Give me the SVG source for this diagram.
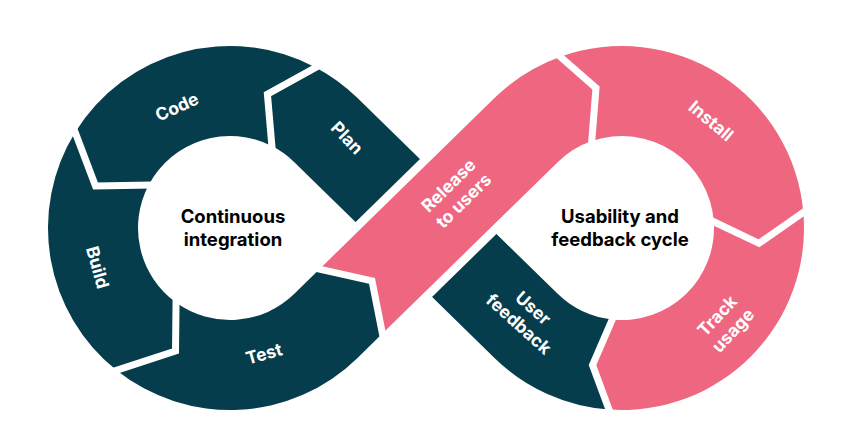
<svg xmlns="http://www.w3.org/2000/svg" width="864" height="427" viewBox="0 0 864 427">
  <style>
    .dark { fill: #063d4d; }
    .pink { fill: #ef6680; }
    .gap { fill: none; stroke: #ffffff; stroke-width: 7; stroke-linecap: square; stroke-linejoin: miter; }
    .lbl { font-family: Inter, "Liberation Sans", sans-serif; font-size: 17.5px; font-weight: 700; fill: #ffffff; text-anchor: middle; }
    .hub { font-family: Inter, "Liberation Sans", sans-serif; font-size: 18.5px; font-weight: 700; fill: #000000; text-anchor: middle; }
  </style>
  <rect width="864" height="427" fill="#ffffff"/>

  <g id="plan">
    <path class="dark" d="M 458.18 196.55 L 357.27 97.82 A 182 182 0 0 0 315.72 67.45 L 267.4 94.1 L 271.91 146.10 A 92 92 0 0 1 294.34 162.19 L 393.82 259.45 Z"/>
  </g>
  <g id="user-feedback">
    <path class="dark" d="M 608.99 409.53 A 182 182 0 0 1 494.73 358.18 L 393.82 259.45 L 458.18 196.55 L 557.66 293.81 A 92 92 0 0 0 612.22 319.48 L 592.5 365 Z"/>
  </g>
  <polygon id="crossing-gap" fill="#ffffff" points="338.54,238.67 438.66,140.81 513.46,217.33 413.34,315.19"/>
  <g id="release">
    <path class="pink" d="M 382.4 333.6 L 557.66 162.19 A 92 92 0 0 1 591.74 141.12 L 596 88 L 560.35 56.76 A 182 182 0 0 0 494.73 97.82 L 319.4 269.2 L 372.0 280.8 Z"/>
  </g>
  <g id="code">
    <path class="dark" d="M 315.72 67.45 A 182 182 0 0 0 75.15 132.36 L 95.5 186 L 148.69 184.95 A 92 92 0 0 1 271.91 146.10 L 267.4 94.1 Z"/>
  </g>
  <g id="build">
    <path class="dark" d="M 75.15 132.36 A 182 182 0 0 0 116.45 370.24 L 175.5 351 L 176.05 302.52 A 92 92 0 0 1 148.69 184.95 L 95.5 186 Z"/>
  </g>
  <g id="test">
    <path class="dark" d="M 116.45 370.24 A 182 182 0 0 0 357.27 358.18 L 382.4 333.6 L 372.0 280.8 L 319.4 269.2 L 294.34 293.81 A 92 92 0 0 1 176.05 302.52 L 175.5 351 Z"/>
  </g>
  <g id="install">
    <path class="pink" d="M 560.35 56.76 A 182 182 0 0 1 803.34 212.45 L 759 243.3 L 713.79 221.74 A 92 92 0 0 0 591.74 141.12 L 596 88 Z"/>
  </g>
  <g id="track-usage">
    <path class="pink" d="M 803.34 212.45 A 182 182 0 0 1 608.99 409.53 L 592.5 365 L 612.22 319.48 A 92 92 0 0 0 713.79 221.74 L 759 243.3 Z"/>
  </g>

  <g id="gaps">
    <polyline class="gap" points="315.72,67.45 267.4,94.1 271.91,146.10"/>
    <polyline class="gap" points="75.15,132.36 95.5,186 148.69,184.95"/>
    <polyline class="gap" points="116.45,370.24 175.5,351 176.05,302.52"/>
    <polyline class="gap" points="382.4,333.6 372.0,280.8 319.4,269.2"/>
    <polyline class="gap" points="560.35,56.76 596,88 591.74,141.12"/>
    <polyline class="gap" points="803.34,212.45 759,243.3 713.79,221.74"/>
    <polyline class="gap" points="608.99,409.53 592.5,365 612.22,319.48"/>
  </g>

  <g id="labels">
    <text class="lbl" transform="translate(177,107) rotate(-24)" y="6">Code</text>
    <text class="lbl" transform="translate(347,138) rotate(46)" y="6">Plan</text>
    <text class="lbl" transform="translate(97.5,267.5) rotate(74)" y="6">Build</text>
    <text class="lbl" transform="translate(264,354) rotate(-16)" y="6">Test</text>
    <text class="lbl" transform="translate(456,193) rotate(-44.35)"><tspan x="0" y="-4.5">Release</tspan><tspan x="0" y="17">to users</tspan></text>
    <text class="lbl" transform="translate(711,121) rotate(40)" y="6">Install</text>
    <text class="lbl" transform="translate(725,323) rotate(-47)"><tspan x="0" y="-4.5">Track</tspan><tspan x="0" y="17">usage</tspan></text>
    <text class="lbl" transform="translate(526,316) rotate(42)"><tspan x="0" y="-4.5">User</tspan><tspan x="0" y="17">feedback</tspan></text>
  </g>

  <g id="centers">
    <text class="hub" x="233" y="223">Continuous</text>
    <text class="hub" x="233" y="246">integration</text>
    <text class="hub" x="620" y="223">Usability and</text>
    <text class="hub" x="620" y="246">feedback cycle</text>
  </g>
</svg>
